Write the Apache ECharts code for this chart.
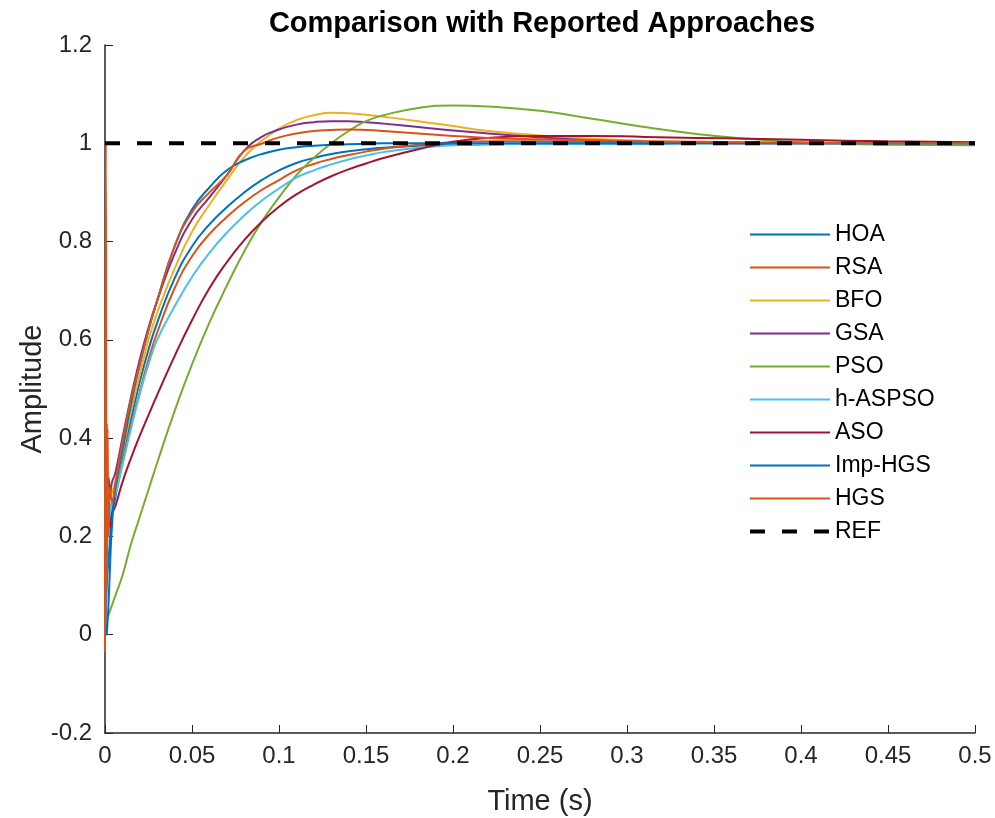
<!DOCTYPE html>
<html>
<head>
<meta charset="utf-8">
<script src="https://cdn.jsdelivr.net/npm/echarts@6/dist/echarts.min.js"></script>
<style>
  html, body { margin: 0; padding: 0; background: #fff; }
  #chart { width: 995px; height: 818px; }
</style>
</head>
<body>
<div id="chart"></div>
<script>
// time samples (s)
const times = [0, 0.0005, 0.001, 0.0015, 0.002, 0.003, 0.004, 0.006, 0.01, 0.015, 0.02, 0.025, 0.03,
  0.04, 0.05, 0.06, 0.07, 0.08, 0.09, 0.1, 0.11, 0.12, 0.13, 0.14, 0.15, 0.16,
  0.18, 0.2, 0.22, 0.25, 0.28, 0.31, 0.34, 0.37, 0.4, 0.45, 0.5];

// step responses
const hoa = [0, 0.05, 0.1, 0.13, 0.15, 0.2, 0.25, 0.28, 0.36, 0.44, 0.515, 0.58, 0.635,
  0.725, 0.79, 0.835, 0.87, 0.9, 0.925, 0.945, 0.96, 0.97, 0.978, 0.984, 0.988, 0.991,
  0.995, 0.997, 0.998, 0.999, 0.999, 0.999, 1.0, 1.0, 1.0, 1.0, 1.0];
const rsa = [0, 0.12, 0.25, 0.22, 0.24, 0.26, 0.27, 0.29, 0.35, 0.425, 0.495, 0.56, 0.615,
  0.705, 0.77, 0.815, 0.85, 0.88, 0.905, 0.925, 0.945, 0.958, 0.968, 0.976, 0.983, 0.989,
  0.997, 1.002, 1.004, 1.004, 1.003, 1.002, 1.002, 1.001, 1.001, 1.0, 1.0];
const bfo = [0, 0.1, 0.2, 0.28, 0.27, 0.28, 0.29, 0.31, 0.37, 0.455, 0.53, 0.6, 0.655,
  0.745, 0.82, 0.875, 0.925, 0.972, 1.005, 1.03, 1.047, 1.057, 1.062, 1.061, 1.058, 1.054,
  1.045, 1.035, 1.025, 1.016, 1.009, 1.005, 1.002, 1.001, 1.0, 1.0, 1.0];
const gsa = [0, 0.2, 0.43, 0.3, 0.32, 0.29, 0.31, 0.33, 0.4, 0.485, 0.56, 0.625, 0.68,
  0.775, 0.845, 0.89, 0.935, 0.985, 1.013, 1.028, 1.038, 1.043, 1.045, 1.045, 1.043, 1.04,
  1.033, 1.026, 1.02, 1.012, 1.006, 1.003, 1.001, 1.0, 1.0, 1.0, 1.0];
const pso = [0, 0, 0.02, 0.035, 0.04, 0.05, 0.06, 0.08, 0.12, 0.185, 0.24, 0.295, 0.35,
  0.455, 0.55, 0.635, 0.71, 0.78, 0.84, 0.89, 0.935, 0.97, 1.0, 1.025, 1.045, 1.057,
  1.072, 1.077, 1.075, 1.066, 1.05, 1.033, 1.019, 1.009, 1.002, 0.997, 0.996];
const hAspso = [0, 0.08, 0.15, 0.2, 0.22, 0.25, 0.27, 0.285, 0.345, 0.42, 0.49, 0.55, 0.6,
  0.668, 0.728, 0.777, 0.818, 0.853, 0.883, 0.908, 0.93, 0.945, 0.957, 0.967, 0.975, 0.982,
  0.991, 0.996, 0.998, 0.999, 0.999, 1.0, 1.0, 1.0, 1.0, 1.0, 1.0];
const aso = [0, 0.15, 0.3, 0.25, 0.23, 0.22, 0.245, 0.262, 0.31, 0.36, 0.405, 0.447, 0.488,
  0.567, 0.64, 0.705, 0.758, 0.803, 0.84, 0.871, 0.896, 0.916, 0.933, 0.947, 0.959, 0.97,
  0.988, 1.003, 1.011, 1.015, 1.015, 1.013, 1.011, 1.009, 1.007, 1.004, 1.002];
const impHgs = [0, 0.02, 0.0, 0.03, 0.06, 0.15, 0.22, 0.3, 0.375, 0.47, 0.55, 0.62, 0.68,
  0.79, 0.865, 0.91, 0.945, 0.965, 0.978, 0.987, 0.992, 0.995, 0.997, 0.998, 0.999, 1.0,
  1.0, 1.0, 1.0, 1.0, 1.0, 1.0, 1.0, 1.0, 1.0, 1.0, 1.0];
const hgs = [-0.035, 1.0, 0.1, 0.42, 0.2, 0.3, 0.27, 0.31, 0.39, 0.48, 0.55, 0.62, 0.68,
  0.79, 0.86, 0.9, 0.935, 0.985, 0.999, 1.012, 1.02, 1.025, 1.027, 1.028, 1.027, 1.025,
  1.02, 1.015, 1.011, 1.008, 1.006, 1.004, 1.003, 1.002, 1.001, 1.0, 1.0];
const refTimes = [0, 0.5];
const refValues = [1, 1];

const names = ['HOA', 'RSA', 'BFO', 'GSA', 'PSO', 'h-ASPSO', 'ASO', 'Imp-HGS', 'HGS'];
const values = [hoa, rsa, bfo, gsa, pso, hAspso, aso, impHgs, hgs];
const colors = ['#0072BD', '#D95319', '#EDB120', '#7E2F8E', '#77AC30', '#4DBEEE', '#A2142F', '#0072BD', '#D95319'];

const xTicks = { min: 0, max: 0.5, interval: 0.05 };
const yTicks = { min: -0.2, max: 1.2, interval: 0.2 };

const font = "'Liberation Sans', Arial, sans-serif";
const axisColor = '#262626';

const chart = echarts.init(document.getElementById('chart'));

const series = names.map((name, k) => ({
  name,
  type: 'line',
  data: times.map((t, i) => [t, values[k][i]]),
  showSymbol: false,
  symbol: 'none',
  smooth: 0.5,
  lineStyle: { width: 2, color: colors[k] },
  itemStyle: { color: colors[k] },
}));

series.push({
  name: 'REF',
  type: 'line',
  data: refTimes.map((t, i) => [t, refValues[i]]),
  symbol: 'none',
  lineStyle: { width: 4, color: '#000', type: [15, 17] },
  itemStyle: { color: '#000' },
});

const option = {
  backgroundColor: '#fff',
  animation: false,
  title: {
    text: 'Comparison with Reported Approaches',
    left: 537,
    textAlign: 'center',
    top: 4,
    textStyle: { fontFamily: font, fontSize: 29, fontWeight: 'bold', color: '#000' },
  },
  legend: {
    orient: 'vertical',
    left: 748,
    top: 223,
    padding: 0,
    itemWidth: 80,
    itemHeight: 14,
    itemGap: 10,
    itemStyle: { opacity: 0 },
    textStyle: { fontFamily: font, fontSize: 23, color: '#000' },
    data: [...names, { name: 'REF', lineStyle: { width: 4 } }],
  },
  grid: { left: 105, right: 20, top: 45, bottom: 85, containLabel: false, outerBoundsMode: 'none' },
  xAxis: {
    type: 'value',
    min: xTicks.min,
    max: xTicks.max,
    interval: xTicks.interval,
    name: 'Time (s)',
    nameLocation: 'middle',
    nameGap: 54,
    nameTextStyle: { fontFamily: font, fontSize: 29, color: axisColor },
    axisLine: { onZero: false, lineStyle: { color: axisColor, width: 1.5 } },
    axisTick: { inside: true, length: 8, lineStyle: { color: axisColor } },
    axisLabel: { fontFamily: font, fontSize: 24, color: axisColor, margin: 11 },
    splitLine: { show: false },
  },
  yAxis: {
    type: 'value',
    min: yTicks.min,
    max: yTicks.max,
    interval: yTicks.interval,
    name: 'Amplitude',
    nameLocation: 'middle',
    nameGap: 58,
    nameMoveOverlap: false,
    nameTextStyle: { fontFamily: font, fontSize: 29, color: axisColor },
    axisLine: { show: true, onZero: false, lineStyle: { color: axisColor, width: 1.5 } },
    axisTick: { show: true, inside: true, length: 8, lineStyle: { color: axisColor } },
    axisLabel: { fontFamily: font, fontSize: 24, color: axisColor, margin: 13 },
    splitLine: { show: false },
  },
  series,
};

chart.setOption(option);
</script>
</body>
</html>
